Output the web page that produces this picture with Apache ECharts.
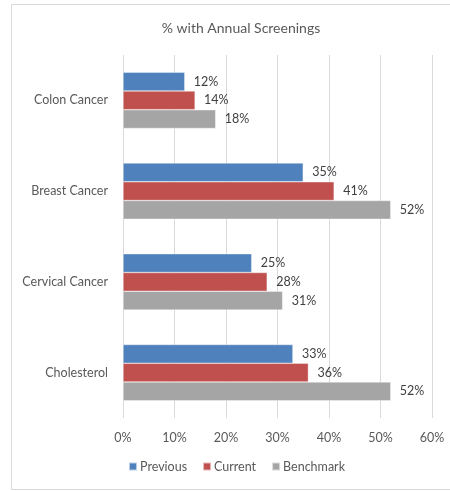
<!DOCTYPE html>
<html>
<head>
<meta charset="utf-8">
<script src="https://cdn.jsdelivr.net/npm/echarts@6/dist/echarts.min.js"></script>
<style>
  html, body { margin: 0; padding: 0; background: #fff; }
  #chart { width: 450px; height: 491px; }
</style>
</head>
<body>
<div id="chart"></div>
<script>
// Screening categories, top to bottom
const categories = ['Colon Cancer', 'Breast Cancer', 'Cervical Cancer', 'Cholesterol'];
// Percent screened per category
const previous = [12, 35, 25, 33];
const current = [14, 41, 28, 36];
const benchmark = [18, 52, 31, 52];
const xTicks = [0, 10, 20, 30, 40, 50, 60];

const FONT = 'Lato';
const TEXT = '#595959';

function barSeries(name, data, color) {
  return {
    name: name,
    type: 'bar',
    data: data,
    barGap: '0%',
    barCategoryGap: '38%',
    itemStyle: { color: color, borderColor: 'rgba(255,255,255,0.6)', borderWidth: 0.6 },
    label: {
      show: true,
      position: 'right',
      distance: 9,
      formatter: '{c}%',
      color: '#404040',
      fontFamily: FONT,
      fontSize: 12.5
    }
  };
}

const chart = echarts.init(document.getElementById('chart'), null, { renderer: 'canvas' });
chart.setOption({
  animation: false,
  backgroundColor: '#fff',
  textStyle: { fontFamily: FONT },
  graphic: [{
    type: 'rect',
    shape: { x: 11.5, y: 4.5, width: 460, height: 485 },
    style: { fill: 'none', stroke: '#d9d9d9', lineWidth: 1 },
    silent: true
  }],
  title: {
    text: '% with Annual Screenings',
    left: 236,
    textAlign: 'center',
    top: 16,
    textStyle: { fontFamily: FONT, fontSize: 14, fontWeight: 'normal', color: TEXT }
  },
  legend: {
    data: ['Previous', 'Current', 'Benchmark'],
    left: 128,
    top: 460,
    padding: 0,
    icon: 'rect',
    itemWidth: 8,
    itemHeight: 8,
    itemGap: 15,
    textStyle: { fontFamily: FONT, fontSize: 12.5, color: TEXT, padding: [0, 0, 0, -2] }
  },
  grid: { left: 123, right: 18, top: 55, bottom: 73, containLabel: false },
  xAxis: {
    type: 'value',
    min: xTicks[0],
    max: xTicks[xTicks.length - 1],
    interval: 10,
    axisLine: { show: false },
    axisTick: { show: false },
    splitLine: { show: true, lineStyle: { color: '#d9d9d9', width: 1 } },
    axisLabel: {
      formatter: '{value}%',
      color: TEXT,
      fontFamily: FONT,
      fontSize: 12.5,
      margin: 13
    }
  },
  yAxis: {
    type: 'category',
    data: categories,
    inverse: true,
    axisLine: { show: false },
    axisTick: { show: false },
    splitLine: { show: false },
    axisLabel: { color: TEXT, fontFamily: FONT, fontSize: 12.5, margin: 15 }
  },
  series: [
    barSeries('Previous', previous, '#4f81bd'),
    barSeries('Current', current, '#c0504d'),
    barSeries('Benchmark', benchmark, '#a5a5a5')
  ]
});
</script>
</body>
</html>
